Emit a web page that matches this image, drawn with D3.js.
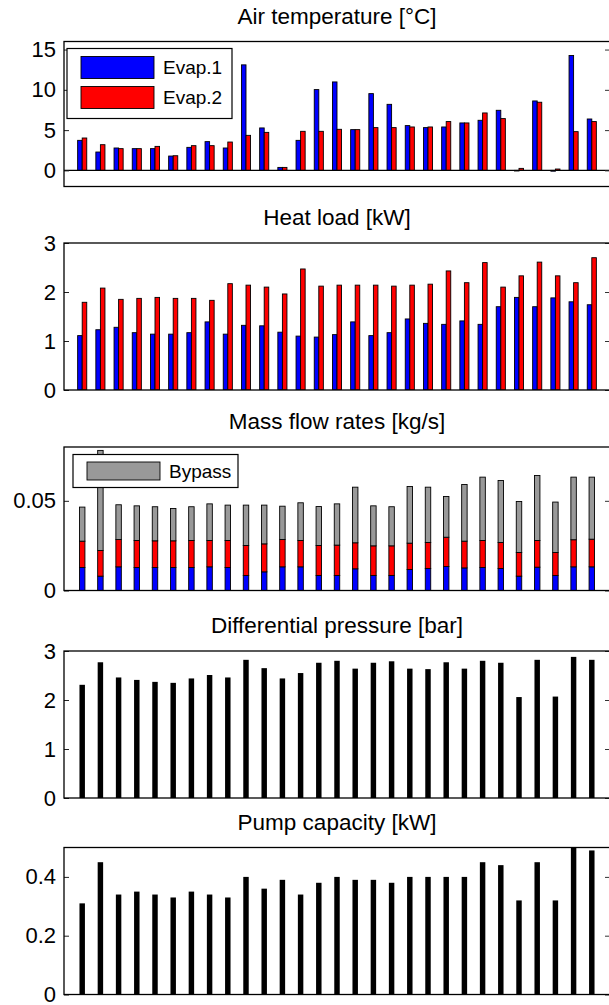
<!DOCTYPE html>
<html>
<head>
<meta charset="utf-8">
<script src="https://cdn.jsdelivr.net/npm/d3@7"></script>
<style>
  html, body { margin: 0; padding: 0; background: #fff; }
  svg { display: block; font-family: "Liberation Sans", Arial, Helvetica, sans-serif; }
</style>
</head>
<body>
<svg id="chart" width="609" height="1005"></svg>
<script>
// Test runs 1..29
const runs = d3.range(1, 30);

// Air temperature [°C]
const airEvap1 = [3.73, 2.28, 2.78, 2.70, 2.70, 1.78, 2.86, 3.57, 2.78, 13.1, 5.27, 0.37, 3.73, 10.03, 10.98, 5.06, 9.53, 8.20, 5.56, 5.31, 5.39, 5.89, 6.22, 7.46, 0.00, 8.62, -0.10, 14.26, 6.38];
const airEvap2 = [4.02, 3.19, 2.70, 2.70, 2.98, 1.82, 3.07, 3.07, 3.52, 4.35, 4.72, 0.37, 4.85, 4.85, 5.10, 5.06, 5.31, 5.31, 5.39, 5.39, 6.06, 5.89, 7.13, 6.43, 0.25, 8.46, 0.17, 4.81, 6.06];

// Heat load [kW]
const heatEvap1 = [1.11, 1.23, 1.28, 1.17, 1.14, 1.14, 1.17, 1.39, 1.14, 1.32, 1.31, 1.18, 1.10, 1.08, 1.13, 1.39, 1.11, 1.17, 1.45, 1.36, 1.34, 1.41, 1.34, 1.70, 1.89, 1.70, 1.88, 1.80, 1.74];
const heatEvap2 = [1.79, 2.08, 1.85, 1.87, 1.89, 1.87, 1.87, 1.83, 2.17, 2.14, 2.10, 1.96, 2.47, 2.12, 2.14, 2.14, 2.14, 2.12, 2.14, 2.16, 2.43, 2.19, 2.60, 2.10, 2.33, 2.61, 2.33, 2.19, 2.70];

// Mass flow rates [kg/s]
const flowEvap1 = [0.0128, 0.0080, 0.0132, 0.0128, 0.0128, 0.0128, 0.0128, 0.0132, 0.0128, 0.0084, 0.0104, 0.0132, 0.0132, 0.0084, 0.0084, 0.0121, 0.0084, 0.0084, 0.0117, 0.0123, 0.0134, 0.0126, 0.0128, 0.0123, 0.0080, 0.0130, 0.0084, 0.0132, 0.0132];
const flowEvap2 = [0.0147, 0.0143, 0.0152, 0.0151, 0.0149, 0.0149, 0.0151, 0.0147, 0.0151, 0.0167, 0.0156, 0.0152, 0.0147, 0.0167, 0.0169, 0.0145, 0.0165, 0.0165, 0.0147, 0.0145, 0.0163, 0.0149, 0.0151, 0.0145, 0.0132, 0.0149, 0.0128, 0.0151, 0.0154];
const flowBypass = [0.0190, 0.0558, 0.0194, 0.0193, 0.0190, 0.0180, 0.0188, 0.0204, 0.0197, 0.0225, 0.0216, 0.0186, 0.0210, 0.0217, 0.0230, 0.0310, 0.0223, 0.0218, 0.0316, 0.0308, 0.0227, 0.0316, 0.0353, 0.0345, 0.0284, 0.0362, 0.0281, 0.0349, 0.0346];

// Differential pressure [bar]
const pressure = [2.31, 2.77, 2.46, 2.41, 2.37, 2.35, 2.44, 2.51, 2.46, 2.82, 2.65, 2.44, 2.55, 2.76, 2.80, 2.64, 2.76, 2.79, 2.64, 2.63, 2.77, 2.64, 2.80, 2.76, 2.06, 2.82, 2.07, 2.88, 2.82];

// Pump capacity [kW]
const pumpPower = [0.31, 0.45, 0.34, 0.35, 0.34, 0.33, 0.35, 0.34, 0.33, 0.40, 0.36, 0.39, 0.34, 0.38, 0.40, 0.39, 0.39, 0.38, 0.40, 0.40, 0.40, 0.40, 0.45, 0.44, 0.32, 0.45, 0.32, 0.51, 0.49];

const titles = ["Air temperature [°C]", "Heat load [kW]", "Mass flow rates [kg/s]", "Differential pressure [bar]", "Pump capacity [kW]"];
const seriesNames = ["Evap.1", "Evap.2"];
const bypassName = "Bypass";

const ticksAir = [0, 5, 10, 15];
const ticksHeat = [0, 1, 2, 3];
const ticksFlow = [0, 0.05];
const ticksPressure = [0, 1, 2, 3];
const ticksPump = [0, 0.2, 0.4];
const tickFormatFlow = d => d === 0 ? "0" : d3.format(".2f")(d);
const tickFormatPump = d => d === 0 ? "0" : d3.format(".1f")(d);

const BLUE = "#0000ff", RED = "#ff0000", GREY = "#999999";

const svg = d3.select("#chart");
const left = 64, right = 610;
const x = d3.scaleLinear().domain([0, 30]).range([left, right]);
const unit = x(1) - x(0);

// panel frames (top, bottom) and y domains
const panels = [
  { top: 41.5, bottom: 186.5, domain: [-2, 16], ticks: ticksAir, fmt: d3.format("d") },
  { top: 243, bottom: 390, domain: [0, 3], ticks: ticksHeat, fmt: d3.format("d") },
  { top: 447, bottom: 590.5, domain: [0, 0.08], ticks: ticksFlow, fmt: tickFormatFlow },
  { top: 651, bottom: 798, domain: [0, 3], ticks: ticksPressure, fmt: d3.format("d") },
  { top: 847.5, bottom: 994.5, domain: [0, 0.5], ticks: ticksPump, fmt: tickFormatPump }
];

panels.forEach((p, i) => {
  p.y = d3.scaleLinear().domain(p.domain).range([p.bottom, p.top]);
  const g = svg.append("g");
  p.g = g;
  const clipId = "clip" + i;
  svg.append("clipPath").attr("id", clipId)
    .append("rect").attr("x", left).attr("y", p.top).attr("width", right - left).attr("height", p.bottom - p.top);
  p.plot = g.append("g").attr("clip-path", `url(#${clipId})`);
  // title
  g.append("text")
    .attr("x", (left + right) / 2)
    .attr("y", p.top - 18)
    .attr("text-anchor", "middle")
    .attr("font-size", 22.5)
    .attr("fill", "#000")
    .text(titles[i]);
});

function drawAxes(p) {
  const g = p.g;
  // left axis labels + inward ticks
  const yl = d3.axisLeft(p.y).tickValues(p.ticks).tickFormat(p.fmt).tickSizeInner(-5).tickSizeOuter(0).tickPadding(8);
  const ax = g.append("g").attr("transform", `translate(${left},0)`).call(yl);
  ax.select(".domain").remove();
  ax.selectAll(".tick line").attr("stroke", "#222").attr("stroke-width", 1);
  ax.selectAll(".tick text").attr("font-size", 22).attr("fill", "#000")
    .attr("font-family", "'Liberation Sans', Arial, Helvetica, sans-serif");
  // right inward ticks
  const yr = d3.axisRight(p.y).tickValues(p.ticks).tickFormat("").tickSizeInner(-5).tickSizeOuter(0);
  const axr = g.append("g").attr("transform", `translate(${right},0)`).call(yr);
  axr.select(".domain").remove();
  axr.selectAll(".tick line").attr("stroke", "#333").attr("stroke-width", 1);
  // box
  g.append("rect")
    .attr("x", left).attr("y", p.top)
    .attr("width", right - left).attr("height", p.bottom - p.top)
    .attr("fill", "none").attr("stroke", "#000").attr("stroke-width", 1.3);
}

function barStyle(sel, fill) {
  sel.attr("fill", fill).attr("stroke", "#000").attr("stroke-width", 0.9);
}

// Panels 1 and 2: grouped bars
function groupedBars(p, a, b) {
  const bw = unit * 0.25;
  const y0 = p.y(0);
  [a, b].forEach((vals, k) => {
    p.plot.selectAll(null).data(vals).enter().append("rect")
      .attr("x", (d, j) => x(runs[j]) - bw + k * bw)
      .attr("width", bw)
      .attr("y", d => Math.min(p.y(d), y0))
      .attr("height", d => Math.max(Math.abs(p.y(d) - y0), 0.6))
      .call(barStyle, k === 0 ? BLUE : RED);
  });
}

groupedBars(panels[0], airEvap1, airEvap2);
// zero baseline
panels[0].g.append("line")
  .attr("x1", left).attr("x2", right)
  .attr("y1", panels[0].y(0)).attr("y2", panels[0].y(0))
  .attr("stroke", "#000").attr("stroke-width", 1.3);

groupedBars(panels[1], heatEvap1, heatEvap2);

// Panel 3: stacked bars
(function () {
  const p = panels[2];
  const table = runs.map((r, j) => ({ run: r, e1: flowEvap1[j], e2: flowEvap2[j], bp: flowBypass[j] }));
  const stacked = d3.stack().keys(["e1", "e2", "bp"])(table);
  const colors = [BLUE, RED, GREY];
  const bw = unit * 0.3;
  stacked.forEach((layer, k) => {
    p.plot.selectAll(null).data(layer).enter().append("rect")
      .attr("x", d => x(d.data.run) - bw / 2)
      .attr("width", bw)
      .attr("y", d => p.y(d[1]))
      .attr("height", d => p.y(d[0]) - p.y(d[1]))
      .call(barStyle, colors[k]);
  });
})();

// Panels 4 and 5: single black bars
function singleBars(p, vals) {
  const bw = unit * 0.3;
  p.plot.selectAll(null).data(vals).enter().append("rect")
    .attr("x", (d, j) => x(runs[j]) - bw / 2)
    .attr("width", bw)
    .attr("y", d => p.y(d))
    .attr("height", d => p.y(0) - p.y(d))
    .attr("fill", "#000");
}
singleBars(panels[3], pressure);
singleBars(panels[4], pumpPower);

panels.forEach(drawAxes);

// Legends
function legend(g, box, items) {
  const lg = g.append("g");
  lg.append("rect")
    .attr("x", box.x).attr("y", box.y).attr("width", box.w).attr("height", box.h)
    .attr("fill", "#fff").attr("stroke", "#000").attr("stroke-width", 1.2);
  items.forEach((it, i) => {
    const cy = box.y + box.pad + i * box.step + box.sh / 2;
    lg.append("rect")
      .attr("x", box.x + 14).attr("y", cy - box.sh / 2)
      .attr("width", 73).attr("height", box.sh)
      .attr("fill", it.color).attr("stroke", "#000").attr("stroke-width", 0.9);
    lg.append("text")
      .attr("x", box.x + 96).attr("y", cy)
      .attr("dy", "0.36em")
      .attr("font-size", 19)
      .attr("fill", "#000")
      .text(it.name);
  });
}

legend(panels[0].g, { x: 67, y: 48.5, w: 165, h: 70, pad: 8, step: 30, sh: 22 },
  [{ name: seriesNames[0], color: BLUE }, { name: seriesNames[1], color: RED }]);
legend(panels[2].g, { x: 73, y: 454.5, w: 165, h: 33, pad: 7.5, step: 0, sh: 18 },
  [{ name: bypassName, color: GREY }]);
</script>
</body>
</html>
